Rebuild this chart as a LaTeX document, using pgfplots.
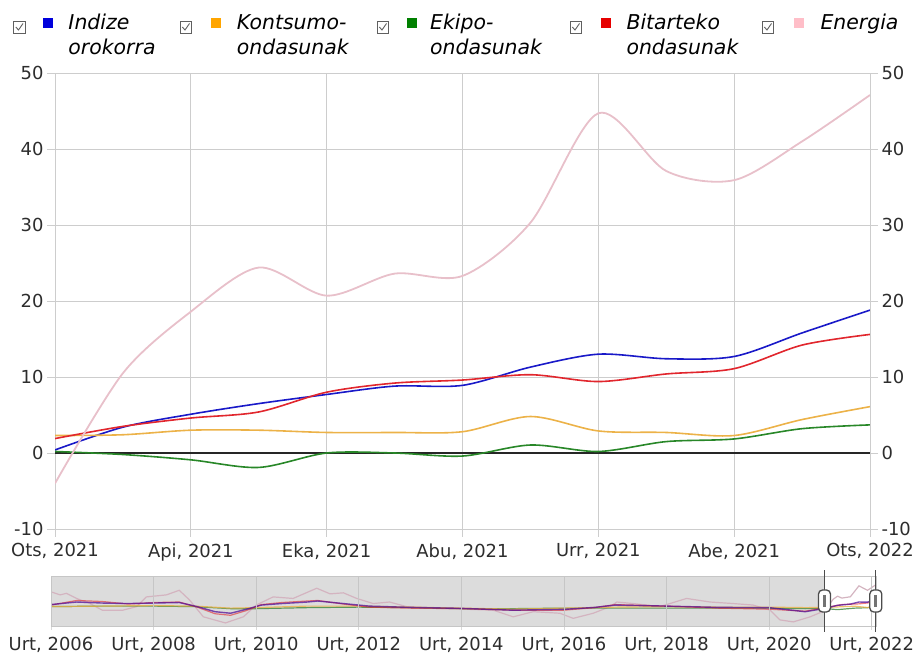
\documentclass[border=0pt]{standalone}
\usepackage{pgfplots}
\usepackage{pgfplotstable}
\pgfplotsset{compat=1.18}
\usepackage{fontspec}
\setmainfont{DejaVu Sans}
\definecolor{cblue}{RGB}{25,25,200}
\definecolor{corange}{RGB}{236,178,72}
\definecolor{cgreen}{RGB}{40,135,40}
\definecolor{cred}{RGB}{225,38,45}
\definecolor{cpink}{RGB}{232,192,202}
\definecolor{navpinkc}{RGB}{212,180,192}
\definecolor{sqblue}{RGB}{0,0,220}
\definecolor{sqorange}{RGB}{255,165,0}
\definecolor{sqgreen}{RGB}{0,128,0}
\definecolor{sqred}{RGB}{230,0,0}
\definecolor{sqpink}{RGB}{255,190,200}
\definecolor{ticktext}{RGB}{45,45,45}
\definecolor{gridc}{RGB}{205,205,205}
\definecolor{navbg}{RGB}{220,220,220}

\pgfplotstableread{
m   blue  orange green red   pink
0   0.4   2.3    0.2   1.9   -4.0
1   3.4   2.4   -0.2   3.5   10.5
2   5.1   3.0   -0.9   4.6   18.6
3   6.5   3.0   -1.9   5.4   24.4
4   7.7   2.7    0.0   8.0   20.7
5   8.8   2.7    0.0   9.2   23.6
6   8.9   2.8   -0.4   9.6   23.3
7   11.3  4.8    1.05  10.3  30.3
8   13.0  2.9    0.2   9.4   44.7
9   12.4  2.7    1.5   10.4  37.1
10  12.7  2.3    1.85  11.1  35.9
11  15.8  4.4    3.2   14.2  41.0
12  18.8  6.1    3.7   15.6  47.1
}\maindata

\pgfplotstableread{
t        v
2006.00  33
2006.18  27
2006.30  30
2006.50  20
2006.76  10
2007.00  -3
2007.40  -3
2007.67  4
2007.86  23
2008.25  27
2008.50  36
2008.70  17
2008.97  -16
2009.40  -28
2009.75  -16
2010.00  7
2010.33  23
2010.72  20
2011.18  40
2011.44  29
2011.70  31
2011.96  20
2012.28  10
2012.60  13
2012.93  4
2013.58  0.6
2014.62  -3
2015.01  -16
2015.40  -6
2015.92  -9
2016.18  -19
2016.57  -9
2016.90  4
2017.03  13
2017.35  10
2017.87  4
2018.39  20
2018.85  13
2019.30  10
2019.69  7
2020.02  -3
2020.21  -22
2020.47  -26
2020.80  -16
2021.083 -4
2021.25  18.6
2021.333 24.4
2021.417 20.7
2021.583 23.3
2021.75  44.7
2021.917 35.9
2022.083 47.1
}\navpink

\pgfplotstableread{
t        v
2006.00  8
2006.50  13
2007.00  11
2007.50  10
2008.00  11
2008.50  12
2008.85  4
2009.20  -6
2009.50  -9
2009.80  -1.4
2010.10  7
2010.50  10
2011.00  13
2011.20  15
2011.70  10
2012.20  5
2013.00  2.5
2014.00  0.6
2015.00  -3
2016.00  -1.4
2016.60  2.5
2017.00  7
2018.00  5
2019.00  2.5
2020.00  2
2020.70  -6
2021.083 0.4
2021.333 6.5
2021.583 8.9
2021.75  13.0
2021.917 12.7
2022.083 18.8
}\navblue

\pgfplotstableread{
t        v
2006.00  7
2006.50  16
2007.00  14
2007.50  9
2008.00  12
2008.50  13
2008.85  3
2009.20  -10
2009.50  -13
2009.80  -4
2010.10  8
2010.50  12
2011.00  15
2011.20  16
2011.70  9
2012.20  3
2013.00  1
2014.00  0
2015.00  -3
2016.00  -3
2016.60  2
2017.00  8
2018.00  5
2019.00  1
2020.00  -1
2020.70  -5
2021.083 1.9
2021.417 8.0
2021.75  9.4
2021.917 11.1
2022.083 15.6
}\navred

\pgfplotstableread{
t        v
2006.00  4
2007.00  5
2008.00  6
2008.80  5
2009.50  1
2010.00  2
2011.00  5
2012.00  5
2013.00  3
2014.00  1
2015.00  -1
2016.00  1
2017.00  3
2018.00  4
2019.00  3
2020.00  3
2020.70  2
2021.083 2.3
2021.667 4.8
2021.917 2.3
2022.083 6.1
}\navorange

\pgfplotstableread{
t        v
2006.00  4
2007.00  5
2008.00  5
2008.80  4
2009.50  0
2010.00  0
2011.00  2
2012.00  3
2013.00  2
2014.00  0
2015.00  0
2016.00  1
2017.00  1
2018.00  1
2019.00  1
2020.00  1
2020.70  0
2021.083 0.2
2021.333 -1.9
2021.667 1.0
2021.917 1.85
2022.083 3.7
}\navgreen

\newcommand{\cbox}[1]{%
  \draw[draw=gray!75!black, line width=0.7bp] (#1,626) rectangle ++(11.5,11.5);
  \draw[draw=gray!75!black, line width=0.9bp] (#1+2.3,632) -- (#1+5,629) -- (#1+9.5,635.5);}
\newcommand{\lsq}[2]{\fill[#2] (#1,631) rectangle ++(10,10);}

\begin{document}
\begin{tikzpicture}[x=1bp,y=1bp]
\useasboundingbox (0,0) rectangle (917,659);

% main chart
\begin{axis}[
  at={(55bp,130bp)}, anchor=south west, scale only axis,
  width=815bp, height=456bp,
  xmin=0, xmax=12, ymin=-10, ymax=50,
  xtick={0,2,...,12},
  xticklabels={{Ots, 2021},{Api, 2021},{Eka, 2021},{Abu, 2021},{Urr, 2021},{Abe, 2021},{Ots, 2022}},
  ytick={-10,0,...,50},
  grid=major, grid style={draw=gridc, line width=0.9bp},
  axis line style={draw=gridc, line width=0.9bp},
  tick style={draw=gridc, line width=0.9bp},
  major tick length=8bp, tick align=outside,
  xtick pos=bottom, ytick pos=left,
  ticklabel style={font=\fontsize{18}{20}\selectfont, text=ticktext},
  /pgf/number format/assume math mode=true,
  xticklabel style={yshift=-3bp},
]
\addplot[color=black!85, line width=1.5bp] coordinates {(0,0) (12,0)};
\addplot[cblue, line width=1.6bp, smooth] table[x=m, y=blue] {\maindata};
\addplot[corange, line width=1.6bp, smooth] table[x=m, y=orange] {\maindata};
\addplot[cgreen, line width=1.6bp, smooth] table[x=m, y=green] {\maindata};
\addplot[cred, line width=1.6bp, smooth] table[x=m, y=red] {\maindata};
\addplot[cpink, line width=1.8bp, smooth] table[x=m, y=pink] {\maindata};
\end{axis}

% right y axis
\begin{axis}[
  at={(55bp,130bp)}, anchor=south west, scale only axis,
  width=815bp, height=456bp,
  xmin=0, xmax=12, ymin=-10, ymax=50,
  axis x line=none, axis y line*=right,
  ytick={-10,0,...,50},
  axis line style={draw=gridc, line width=0.9bp},
  tick style={draw=gridc, line width=0.9bp},
  major tick length=8bp, tick align=outside,
  ticklabel style={font=\fontsize{18}{20}\selectfont, text=ticktext},
  /pgf/number format/assume math mode=true,
]
\addplot[draw=none] coordinates {(0,0)};
\end{axis}

% navigator
\begin{axis}[
  at={(51bp,33bp)}, anchor=south west, scale only axis,
  width=825bp, height=50bp,
  xmin=2006, xmax=2022.083, ymin=-34, ymax=64,
  ytick=\empty,
  xtick={2006,2008,...,2022},
  xticklabels={{Urt, 2006},{Urt, 2008},{Urt, 2010},{Urt, 2012},{Urt, 2014},{Urt, 2016},{Urt, 2018},{Urt, 2020},{Urt, 2022}},
  xmajorgrids, grid style={draw=gray!45, line width=0.7bp},
  axis line style={draw=gray!45, line width=0.8bp},
  tick style={draw=gray!30, line width=0.7bp},
  major tick length=4bp, tick align=outside, xtick pos=bottom,
  ticklabel style={font=\fontsize{18}{20}\selectfont, text=ticktext},
  xticklabel style={yshift=-4bp},
  /pgf/number format/assume math mode=true,
  axis on top,
]
\fill[navbg] (axis cs:2006,-34) rectangle (axis cs:2021.083,64);
\addplot[navpinkc, line width=1.2bp] table[x=t, y=v] {\navpink};
\addplot[cgreen!80!gray, line width=1.2bp, opacity=0.8] table[x=t, y=v] {\navgreen};
\addplot[corange, line width=1.2bp, opacity=0.8] table[x=t, y=v] {\navorange};
\addplot[cred, line width=1.2bp, opacity=0.6] table[x=t, y=v] {\navred};
\addplot[cblue!65!purple, line width=1.4bp, opacity=0.75] table[x=t, y=v] {\navblue};
\end{axis}

% navigator handles
\foreach \hx in {824.5,875.8} {
  \draw[draw=black!70, line width=1.3bp] (\hx,27) -- (\hx,89);
  \filldraw[fill=white, draw=black!70, line width=1.3bp, rounded corners=4bp] (\hx-6,47) rectangle (\hx+6,69);
  \fill[black!55] (\hx-1.6,52) rectangle (\hx+1.6,64);
}

% legend
\cbox{13.5} \lsq{43.3}{sqblue}
\node[anchor=base west, inner sep=0, font=\fontsize{20.5}{24}\selectfont\itshape] at (68.3,629) {Indize};
\node[anchor=base west, inner sep=0, font=\fontsize{20.5}{24}\selectfont\itshape] at (68.3,604) {orokorra};
\cbox{180} \lsq{210.7}{sqorange}
\node[anchor=base west, inner sep=0, font=\fontsize{20.5}{24}\selectfont\itshape] at (236.7,629) {Kontsumo-};
\node[anchor=base west, inner sep=0, font=\fontsize{20.5}{24}\selectfont\itshape] at (236.7,604) {ondasunak};
\cbox{377} \lsq{407}{sqgreen}
\node[anchor=base west, inner sep=0, font=\fontsize{20.5}{24}\selectfont\itshape] at (430,629) {Ekipo-};
\node[anchor=base west, inner sep=0, font=\fontsize{20.5}{24}\selectfont\itshape] at (430,604) {ondasunak};
\cbox{570} \lsq{601}{sqred}
\node[anchor=base west, inner sep=0, font=\fontsize{20.5}{24}\selectfont\itshape] at (626.3,629) {Bitarteko};
\node[anchor=base west, inner sep=0, font=\fontsize{20.5}{24}\selectfont\itshape] at (626.3,604) {ondasunak};
\cbox{762} \lsq{794}{sqpink}
\node[anchor=base west, inner sep=0, font=\fontsize{20.5}{24}\selectfont\itshape] at (820.3,629) {Energia};
\end{tikzpicture}
\end{document}
